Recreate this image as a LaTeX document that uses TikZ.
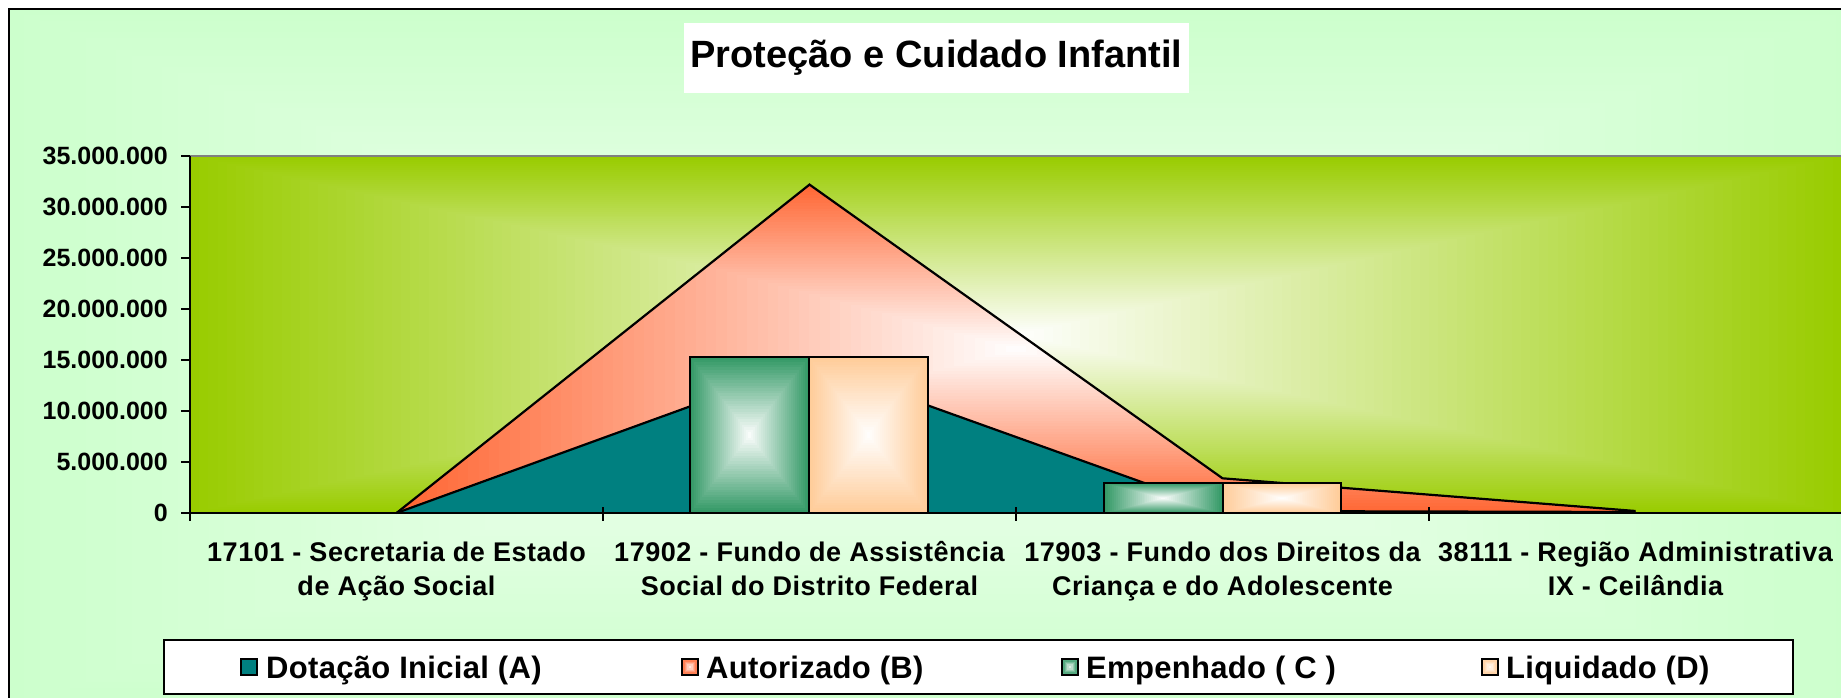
\documentclass[tikz,border=0pt]{standalone}
\usepackage{fontspec}
\setmainfont{Liberation Sans}
\newfontfamily\axfont{Liberation Sans Bold}
\newfontfamily\catfont[LetterSpace=2]{Liberation Sans Bold}
\newfontfamily\legfont[LetterSpace=1]{Liberation Sans Bold}
\newfontfamily\ttlfont{Liberation Sans Bold}
\definecolor{bgEdge}{HTML}{CCFFCC}
\definecolor{bgMid}{HTML}{F6FFF6}
\definecolor{plotGreen}{HTML}{99CC00}
\definecolor{tealA}{HTML}{008080}
\definecolor{orangeB}{HTML}{FF6633}
\definecolor{greenC}{HTML}{339966}
\definecolor{peachD}{HTML}{FFCC99}
% rectangular "from centre" gradient: cx, cy, half-width, half-height, outer, inner, steps
\newcommand{\rgrad}[7]{%
  \foreach \gi in {0,...,#7}{%
    \pgfmathsetmacro{\gT}{1-\gi/#7}%
    \pgfmathsetmacro{\gP}{100*\gi/#7}%
    \fill[#6!\gP!#5] ({#1-\gT*#3},{#2-\gT*#4}) rectangle ({#1+\gT*#3},{#2+\gT*#4});
  }%
}
\begin{document}
\begin{tikzpicture}[x=1pt,y=-1pt,
  axisline/.style={line width=2pt,black},
  outline/.style={line width=2.2pt,black,line join=miter},
  barline/.style={line width=2pt,black},
  ylab/.style={anchor=east,inner sep=0pt,font=\axfont\fontsize{25}{28}\selectfont},
  catlab/.style={anchor=base,inner sep=0pt,font=\catfont\fontsize{27}{30}\selectfont},
  leglab/.style={anchor=base west,inner sep=0pt,font=\legfont\fontsize{31}{34}\selectfont},
  legmark/.style={line width=1.5pt,black}
]
\useasboundingbox (0,0) rectangle (1841,698);
\clip (0,0) rectangle (1841,698);

% chart area background
\rgrad{930}{360}{921}{351}{bgEdge}{bgMid}{60}
\draw[line width=2.5pt,black] (9,9) rectangle (1870,730);

% plot area
\begin{scope}
  \clip (190,156) rectangle (1842,513);
  \rgrad{1016}{334.5}{826}{178.5}{plotGreen}{white}{90}
\end{scope}
\draw[line width=2pt,gray] (190,156) -- (1842,156);

% Autorizado (B) area
\coordinate (b1) at (396.5,513);
\coordinate (b2) at (809.5,184.6);
\coordinate (b3) at (1222.5,478.3);
\coordinate (b4) at (1635.5,511);
\coordinate (b5) at (1635.5,513);
\begin{scope}
  \clip (b1) -- (b2) -- (b3) -- (b4) -- (b5) -- cycle;
  \rgrad{1016}{349}{620}{165}{orangeB}{white}{60}
\end{scope}
\draw[outline] (b1) -- (b2) -- (b3) -- (b4);

% Dotacao Inicial (A) area
\coordinate (a1) at (396.5,513);
\coordinate (a2) at (809.5,363);
\coordinate (a3) at (1222.5,511);
\coordinate (a4) at (1635.5,512);
\coordinate (a5) at (1635.5,513);
\fill[tealA] (a1) -- (a2) -- (a3) -- (a4) -- (a5) -- cycle;
\draw[outline] (a1) -- (a2) -- (a3) -- (a4);

% bars Empenhado (C) and Liquidado (D)
\begin{scope}\clip (690,357) rectangle (809,513);
  \rgrad{749.5}{435}{59.5}{78}{greenC}{white}{30}\end{scope}
\draw[barline] (690,357) rectangle (809,513);
\begin{scope}\clip (809,357) rectangle (928,513);
  \rgrad{868.5}{435}{59.5}{78}{peachD}{white}{30}\end{scope}
\draw[barline] (809,357) rectangle (928,513);
\begin{scope}\clip (1104,483) rectangle (1222.5,513);
  \rgrad{1163.25}{498}{59.25}{15}{greenC}{white}{30}\end{scope}
\draw[barline] (1104,483) rectangle (1222.5,513);
\begin{scope}\clip (1222.5,483) rectangle (1341,513);
  \rgrad{1281.75}{498}{59.25}{15}{peachD}{white}{30}\end{scope}
\draw[barline] (1222.5,483) rectangle (1341,513);

% axes
\draw[axisline] (190,156) -- (190,521);
\draw[axisline] (190,513) -- (1842,513);
\foreach \v/\lab in {0/0,5/5.000.000,10/10.000.000,15/15.000.000,20/20.000.000,25/25.000.000,30/30.000.000,35/35.000.000}{
  \draw[axisline] (181,{513-10.2*\v}) -- (190,{513-10.2*\v});
  \node[ylab] (y\v) at (168,{513-10.2*\v}) {\lab};
}
\foreach \x in {603,1016,1429}{
  \draw[axisline] (\x,507) -- (\x,521);
}

% category labels
\node[catlab] (c1a) at (396.5,561) {17101 - Secretaria de Estado};
\node[catlab] (c1b) at (396.5,595) {de Ação Social};
\node[catlab] (c2a) at (809.5,561) {17902 - Fundo de Assistência};
\node[catlab] (c2b) at (809.5,595) {Social do Distrito Federal};
\node[catlab] (c3a) at (1222.5,561) {17903 - Fundo dos Direitos da};
\node[catlab] (c3b) at (1222.5,595) {Criança e do Adolescente};
\node[catlab] (c4a) at (1635.5,561) {38111 - Região Administrativa};
\node[catlab] (c4b) at (1635.5,595) {IX - Ceilândia};

% title
\node[fill=white,inner sep=0pt,minimum width=505pt,minimum height=70pt,
      font=\ttlfont\fontsize{38}{41}\selectfont] (title) at (936.5,58) {Proteção e Cuidado Infantil};

% legend
\draw[line width=2pt,black,fill=white] (164,640) rectangle (1793,694);
\fill[tealA] (241,659) rectangle (257,675);
\draw[legmark] (241,659) rectangle (257,675);
\node[leglab] (lA) at (266,678) {Dotação Inicial (A)};
\begin{scope}\clip (682,659) rectangle (698,675);
  \rgrad{690}{667}{8}{8}{orangeB}{white}{6}\end{scope}
\draw[legmark] (682,659) rectangle (698,675);
\node[leglab] (lB) at (706,678) {Autorizado (B)};
\begin{scope}\clip (1062,659) rectangle (1078,675);
  \rgrad{1070}{667}{8}{8}{greenC}{white}{6}\end{scope}
\draw[legmark] (1062,659) rectangle (1078,675);
\node[leglab] (lC) at (1086,678) {Empenhado ( C )};
\begin{scope}\clip (1482,659) rectangle (1498,675);
  \rgrad{1490}{667}{8}{8}{peachD}{white}{6}\end{scope}
\draw[legmark] (1482,659) rectangle (1498,675);
\node[leglab] (lD) at (1506,678) {Liquidado (D)};
\end{tikzpicture}
\end{document}
